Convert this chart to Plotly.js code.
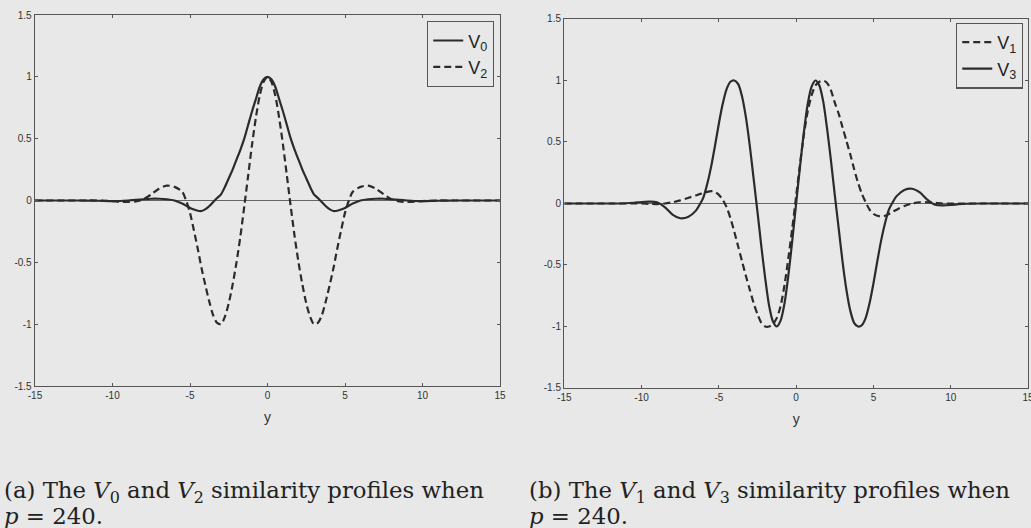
<!DOCTYPE html>
<html>
<head>
<meta charset="utf-8">
<script src="https://cdn.plot.ly/plotly-3.0.1.min.js"></script>
<style>
  html, body { margin: 0; padding: 0; background: #e8e8e8; }
  #plot { width: 1031px; height: 528px; }
</style>
</head>
<body>
<div id="plot"></div>
<script>
// Similarity profiles V0..V3 sampled along y (p = 240).

// Panel (a): even profiles V0 and V2
const yA = [-15, -12, -11, -10, -9.5, -9, -8.5, -8, -7.5, -7, -6.5, -6, -5.5, -5.25, -5, -4.75, -4.5, -4.25, -4, -3.75, -3.5, -3.25, -3, -2.75, -2.5, -2.25, -2, -1.75, -1.5, -1.25, -1, -0.75, -0.5, -0.25, 0,
            0.25, 0.5, 0.75, 1, 1.25, 1.5, 1.75, 2, 2.25, 2.5, 2.75, 3, 3.25, 3.5, 3.75, 4, 4.25, 4.5, 4.75, 5, 5.25, 5.5, 6, 6.5, 7, 7.5, 8, 8.5, 9, 9.5, 10, 11, 12, 15];
const V0 = [0, 0, -0.002, -0.005, -0.004, 0, 0.005, 0.01, 0.014, 0.014, 0.01, 0, -0.025, -0.042, -0.06, -0.073, -0.083, -0.085, -0.07, -0.045, -0.012, 0.02, 0.05, 0.11, 0.18, 0.25, 0.33, 0.41, 0.5, 0.61, 0.72, 0.82, 0.92, 0.98, 1.0,
            0.98, 0.92, 0.82, 0.72, 0.61, 0.5, 0.41, 0.33, 0.25, 0.18, 0.11, 0.05, 0.02, -0.012, -0.045, -0.07, -0.085, -0.083, -0.073, -0.06, -0.042, -0.025, 0, 0.01, 0.014, 0.014, 0.01, 0.005, 0, -0.004, -0.005, -0.002, 0, 0];
const V2 = [0, 0, 0, -0.005, -0.01, -0.012, -0.008, 0.01, 0.05, 0.095, 0.12, 0.11, 0.07, 0.0, -0.1, -0.24, -0.39, -0.55, -0.69, -0.82, -0.93, -0.99, -1.0, -0.94, -0.83, -0.68, -0.5, -0.29, -0.05, 0.2, 0.45, 0.67, 0.85, 0.96, 1.0,
            0.96, 0.85, 0.67, 0.45, 0.2, -0.05, -0.29, -0.5, -0.68, -0.83, -0.94, -1.0, -0.99, -0.93, -0.82, -0.69, -0.55, -0.39, -0.24, -0.1, 0.0, 0.07, 0.11, 0.12, 0.095, 0.05, 0.01, -0.008, -0.012, -0.01, -0.005, 0, 0, 0];

// Panel (b): odd profiles V1 and V3
const yB = [-15, -12, -11, -10.5, -10, -9.5, -9, -8.5, -8, -7.5, -7, -6.5, -6.2, -6, -5.75, -5.5, -5.25, -5, -4.75, -4.5, -4.25, -4, -3.75, -3.5, -3.25, -3, -2.75, -2.5, -2.25, -2, -1.75, -1.5, -1.25, -1, -0.75, -0.5, -0.25, 0,
            0.25, 0.5, 0.75, 1, 1.25, 1.5, 1.75, 2, 2.25, 2.5, 2.75, 3, 3.25, 3.5, 3.75, 4, 4.25, 4.5, 4.75, 5, 5.25, 5.5, 5.75, 6, 6.2, 6.5, 7, 7.5, 8, 8.5, 9, 9.5, 10, 10.5, 11, 12, 15];
const V1 = [0, 0, 0, 0, 0, -0.003, -0.005, 0, 0.01, 0.025, 0.045, 0.065, 0.078, 0.085, 0.095, 0.1, 0.095, 0.07, 0.03, -0.03, -0.12, -0.23, -0.35, -0.47, -0.59, -0.7, -0.81, -0.9, -0.97, -1.0, -1.0, -0.98, -0.93, -0.83, -0.66, -0.44, -0.2, 0.06,
            0.32, 0.56, 0.75, 0.88, 0.96, 0.99, 1.0, 0.98, 0.92, 0.82, 0.73, 0.62, 0.51, 0.4, 0.28, 0.17, 0.08, 0.01, -0.05, -0.085, -0.1, -0.105, -0.1, -0.085, -0.07, -0.05, -0.02, 0, 0.01, 0.01, 0.005, 0, 0, 0, 0, 0, 0];
const V3 = [0, 0, 0.002, 0.006, 0.012, 0.015, 0.01, -0.03, -0.09, -0.12, -0.11, -0.06, 0, 0.05, 0.16, 0.3, 0.47, 0.65, 0.81, 0.93, 0.99, 1.0, 0.97, 0.87, 0.7, 0.47, 0.2, -0.07, -0.35, -0.61, -0.83, -0.96, -1.0, -0.95, -0.81, -0.58, -0.3, 0,
            0.3, 0.58, 0.81, 0.95, 1.0, 0.96, 0.83, 0.61, 0.35, 0.07, -0.2, -0.47, -0.7, -0.87, -0.97, -1.0, -0.99, -0.93, -0.81, -0.65, -0.47, -0.3, -0.16, -0.05, 0, 0.06, 0.11, 0.12, 0.09, 0.03, -0.01, -0.015, -0.012, -0.006, -0.002, 0, 0];

// Axis ticks
const xTickVals = [-15, -10, -5, 0, 5, 10, 15];
const xTickText = ['-15', '-10', '-5', '0', '5', '10', '15'];
const yTickVals = [-1.5, -1, -0.5, 0, 0.5, 1, 1.5];
const yTickText = ['-1.5', '-1', '-0.5', '0', '0.5', '1', '1.5'];

// Captions
const captionA = ['(a) The <i>V</i><sub>0</sub> and <i>V</i><sub>2</sub> similarity profiles when', '<i>p</i> = 240.'];
const captionB = ['(b) The <i>V</i><sub>1</sub> and <i>V</i><sub>3</sub> similarity profiles when', '<i>p</i> = 240.'];

const ink = '#2b2b2b';
const frame = '#555555';
const bg = '#e8e8e8';
const sans = 'Liberation Sans, Arial, Helvetica, sans-serif';
const serif = 'DejaVu Serif, Liberation Serif, serif';

const solid = { color: ink, width: 2.2, shape: 'spline', smoothing: 0.8 };
const dashed = { color: ink, width: 2.2, dash: '7px,4px', shape: 'spline', smoothing: 0.8 };

const traces = [
  { x: yA, y: V0, mode: 'lines', name: 'V<sub>0</sub>', line: solid, xaxis: 'x', yaxis: 'y', legend: 'legend' },
  { x: yA, y: V2, mode: 'lines', name: 'V<sub>2</sub>', line: dashed, xaxis: 'x', yaxis: 'y', legend: 'legend' },
  { x: yB, y: V1, mode: 'lines', name: 'V<sub>1</sub>', line: dashed, xaxis: 'x2', yaxis: 'y2', legend: 'legend2' },
  { x: yB, y: V3, mode: 'lines', name: 'V<sub>3</sub>', line: solid, xaxis: 'x2', yaxis: 'y2', legend: 'legend2' }
];

function xAxis(domain, anchor) {
  return {
    domain: domain, anchor: anchor, range: [-15, 15],
    tickmode: 'array', tickvals: xTickVals, ticktext: xTickText,
    ticks: 'inside', ticklen: 3, tickcolor: frame, tickwidth: 1,
    showline: true, linecolor: frame, linewidth: 1.3, mirror: 'ticks',
    showgrid: false, zeroline: false, ticklabeloverflow: 'allow',
    tickfont: { family: sans, size: 10, color: '#333' },
    title: { text: 'y', font: { family: sans, size: 14, color: '#333' }, standoff: 12 }
  };
}
function yAxis(domain, anchor) {
  return {
    domain: domain, anchor: anchor, range: [-1.5, 1.5],
    tickmode: 'array', tickvals: yTickVals, ticktext: yTickText,
    ticks: 'inside', ticklen: 3, tickcolor: frame, tickwidth: 1,
    showline: true, linecolor: frame, linewidth: 1.3, mirror: 'ticks',
    showgrid: false, zeroline: true, zerolinecolor: '#666', zerolinewidth: 1,
    tickfont: { family: sans, size: 10, color: '#333' }
  };
}

const legendBase = {
  bgcolor: 'rgba(0,0,0,0)', bordercolor: frame, borderwidth: 1.3,
  xanchor: 'right', yanchor: 'top',
  font: { family: sans, size: 18, color: '#222' },
  tracegroupgap: 0, itemwidth: 30
};

function caption(lines, xpx) {
  return lines.map((t, i) => ({
    xref: 'paper', yref: 'paper', x: xpx / 1031, y: 1 - (492 + i * 24) / 528,
    xanchor: 'left', yanchor: 'middle', align: 'left', showarrow: false,
    text: t, font: { family: serif, size: 22.8, color: '#222' }
  }));
}

const layout = {
  width: 1031, height: 528,
  margin: { l: 0, r: 0, t: 0, b: 0 },
  paper_bgcolor: bg, plot_bgcolor: bg,
  showlegend: true,
  xaxis: xAxis([0.03395, 0.48497], 'y'),
  yaxis: yAxis([0.26894, 0.97159], 'x'),
  xaxis2: xAxis([0.54733, 0.99709], 'y2'),
  yaxis2: yAxis([0.26515, 0.96402], 'x2'),
  legend: Object.assign({}, legendBase, { x: 0.4791, y: 0.9602 }),
  legend2: Object.assign({}, legendBase, { x: 0.9922, y: 0.957 }),
  annotations: caption(captionA, 2).concat(caption(captionB, 527))
};

Plotly.newPlot('plot', traces, layout, { displayModeBar: false, staticPlot: true });
</script>
</body>
</html>
